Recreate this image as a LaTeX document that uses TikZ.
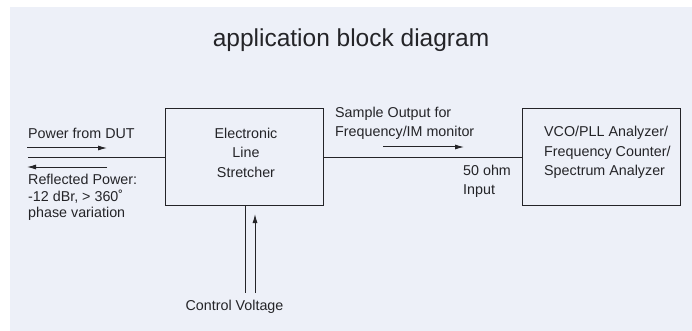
\documentclass[tikz,border=0pt]{standalone}
\usepackage{fontspec}
\setmainfont{Liberation Sans}
\usetikzlibrary{arrows.meta}
\definecolor{bgc}{RGB}{237,240,248}
\definecolor{ink}{RGB}{36,36,40}
\begin{document}
\begin{tikzpicture}[x=1pt,y=-1pt,
  txt/.style={inner sep=0pt, text=ink, font=\fontsize{14.3}{16.5}\selectfont},
  boxtxt/.style={inner sep=0pt, text=ink, font=\fontsize{14.3}{19.5}\selectfont},
  blk/.style={draw=ink, line width=1.3pt, minimum width=158pt, minimum height=97pt, inner sep=0pt},
  wire/.style={draw=ink, line width=1pt},
  arr/.style={draw=ink, line width=1pt, -{Latex[length=9pt,width=5pt]}}]
\useasboundingbox (0,0) rectangle (692,331);
\fill[bgc] (10,7) rectangle (692,331);

\node[inner sep=0pt, text=ink, font=\fontsize{24.5}{28}\selectfont] (title) at (351,40) {application block diagram};

\node[blk] (els) at (244.5,157) {};
\node[blk] (ana) at (601.5,157) {};
\node[boxtxt, align=center] (elstxt) at (246,152.5) {Electronic\\Line\\Stretcher};
\node[boxtxt, align=left, anchor=west] (anatxt) at (544,152.5) {VCO/PLL Analyzer/\\Frequency Counter/\\Spectrum Analyzer};

\coordinate (src) at (28,157);
\draw[wire] (src) -- (els.west);
\draw[wire] (els.east) -- (ana.west);

\node[txt, anchor=west] (pwr) at (28,133) {Power from DUT};
\coordinate (p1) at (27,148);
\coordinate (p2) at (107,148);
\draw[arr] (p1) -- (p2);
\coordinate (r1) at (107,167);
\coordinate (r2) at (27,167);
\draw[arr] (r1) -- (r2);
\node[txt, align=left, anchor=west] (refl) at (28,197.5) {Reflected Power:\\-12 dBr, > 360˚\\phase variation};

\node[boxtxt, align=left, anchor=west] (samp) at (335,123.5) {Sample Output for\\Frequency/IM monitor};
\coordinate (s1) at (383,147);
\coordinate (s2) at (464,147);
\draw[arr] (s1) -- (s2);
\node[boxtxt, align=left, anchor=west] (ohm) at (463,181.5) {50 ohm\\Input};

\coordinate (c1) at (245,293);
\draw[wire] (c1 |- els.south) -- (c1);
\coordinate (c2) at (255,293);
\coordinate (c2t) at (255,214);
\draw[arr] (c2) -- (c2t);
\node[txt] (ctrl) at (234.5,307) {Control Voltage};
\end{tikzpicture}
\end{document}
